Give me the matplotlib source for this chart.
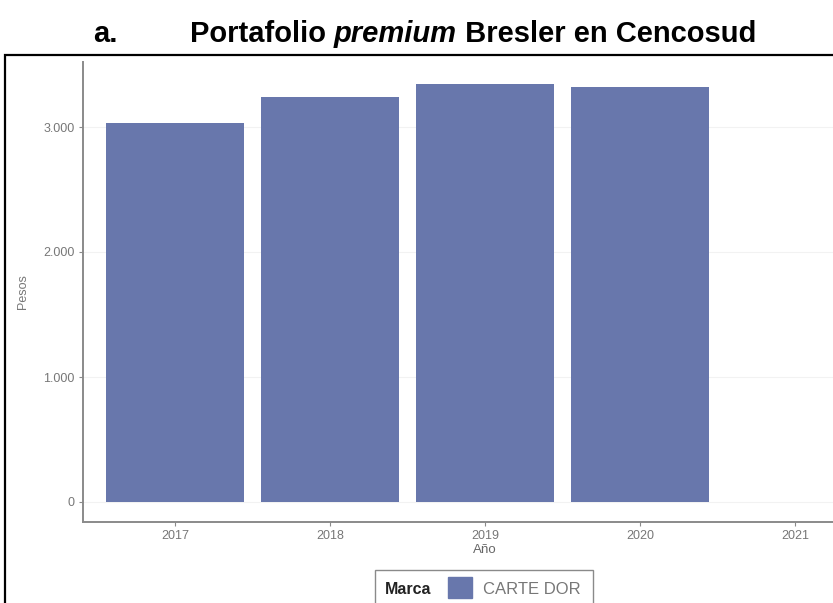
import matplotlib.pyplot as plt
from matplotlib.patches import Rectangle
from matplotlib.ticker import FuncFormatter
from matplotlib.transforms import blended_transform_factory

plt.rcParams['font.family'] = ['Liberation Sans', 'DejaVu Sans']

# Data
years = [2017, 2018, 2019, 2020]
pesos = [3030, 3240, 3345, 3320]
xticks = [2017, 2018, 2019, 2020, 2021]
brand = 'CARTE DOR'
bar_color = '#6877AC'

W, H = 833, 603
fig = plt.figure(figsize=(W / 100, H / 100), dpi=100)

# outer black frame
fig.patches.append(Rectangle((5 / W, -0.05), 1.0, (H - 55) / H + 0.05,
                             transform=fig.transFigure, fill=False,
                             edgecolor='black', linewidth=1.6))

ax = fig.add_axes([83 / W, (H - 522) / H, (W - 83) / W, (522 - 62) / H])
ax.bar(years, pesos, width=0.89, color=bar_color, zorder=2)
ax.set_xlim(2017 - 0.594, 2021.245)
ax.set_ylim(-160, 3520)
ax.set_xticks(xticks)
ax.set_yticks([0, 1000, 2000, 3000])
ax.yaxis.set_major_formatter(FuncFormatter(lambda v, p: f'{int(v):,}'.replace(',', '.')))
ax.grid(axis='y', color='#f2f2f2', linewidth=0.8, zorder=0)
for s in ['top', 'right']:
    ax.spines[s].set_visible(False)
for s in ['left', 'bottom']:
    ax.spines[s].set_color('#8a8a8a')
    ax.spines[s].set_linewidth(1.4)
ax.tick_params(colors='#8a8a8a', labelcolor='#777777', labelsize=9, length=3, pad=3)
ax.set_ylabel('Pesos', fontsize=9, color='#777777', labelpad=10)
# x label sits under the middle year in the original
ax.set_xlabel('Año', fontsize=9.5, color='#666666')
ax.xaxis.set_label_coords(2019, (H - 544) / H,
                          transform=blended_transform_factory(ax.transData, fig.transFigure))

# title with italic word
fig.canvas.draw()
renderer = fig.canvas.get_renderer()
ty = (H - 42) / H
fig.text(93 / W, ty, 'a.', fontsize=21, fontweight='bold', va='baseline')
parts = [('Portafolio ', 'normal'), ('premium', 'italic'), (' Bresler en Cencosud', 'normal')]
x = 190
for txt, style in parts:
    t = fig.text(x / W, ty, txt, fontsize=21, fontweight='bold', fontstyle=style, va='baseline')
    x += t.get_window_extent(renderer).width

# legend drawn at the bottom
fig.patches.append(Rectangle((375 / W, -0.02), 218 / W, (H - 570) / H + 0.02,
                             transform=fig.transFigure, fill=False,
                             edgecolor='#8a8a8a', linewidth=1.0))
fig.text(385 / W, (H - 589) / H, 'Marca', fontsize=11.5, fontweight='bold',
         color='#222222', va='center')
fig.patches.append(Rectangle((448 / W, (H - 598) / H), 24 / W, 21 / H,
                             transform=fig.transFigure, color=bar_color))
fig.text(483 / W, (H - 589) / H, brand, fontsize=12, color='#777777', va='center')

fig.savefig('out.png', dpi=100)
